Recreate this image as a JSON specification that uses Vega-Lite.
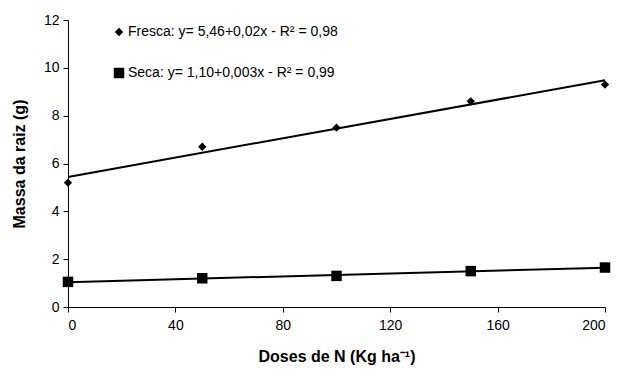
{
  "$schema": "https://vega.github.io/schema/vega-lite/v6.json",
  "width": 537,
  "height": 287,
  "autosize": {"type": "none"},
  "padding": {"left": 68, "top": 20, "right": 18, "bottom": 73},
  "background": "white",
  "config": {
    "view": {"stroke": null},
    "font": "Liberation Sans",
    "axis": {
      "grid": false,
      "domainColor": "black",
      "tickColor": "black",
      "labelColor": "black",
      "titleColor": "black",
      "labelFont": "Liberation Sans",
      "labelFontSize": 14,
      "titleFont": "Liberation Sans",
      "titleFontSize": 16,
      "titleFontWeight": "bold",
      "tickSize": 5
    }
  },
  "data": {
    "values": [
      {"dose": 0, "massa": 5.2, "serie": "Fresca"},
      {"dose": 50, "massa": 6.7, "serie": "Fresca"},
      {"dose": 100, "massa": 7.5, "serie": "Fresca"},
      {"dose": 150, "massa": 8.6, "serie": "Fresca"},
      {"dose": 200, "massa": 9.3, "serie": "Fresca"},
      {"dose": 0, "massa": 1.05, "serie": "Seca"},
      {"dose": 50, "massa": 1.2, "serie": "Seca"},
      {"dose": 100, "massa": 1.3, "serie": "Seca"},
      {"dose": 150, "massa": 1.5, "serie": "Seca"},
      {"dose": 200, "massa": 1.65, "serie": "Seca"}
    ]
  },
  "layer": [
    {
      "transform": [
        {"regression": "massa", "on": "dose", "groupby": ["serie"], "extent": [0, 200]}
      ],
      "mark": {"type": "line", "color": "black", "strokeWidth": 2},
      "encoding": {
        "x": {"field": "dose", "type": "quantitative"},
        "y": {"field": "massa", "type": "quantitative"},
        "detail": {"field": "serie"}
      }
    },
    {
      "mark": {"type": "point", "filled": true, "opacity": 1},
      "encoding": {
        "x": {
          "field": "dose",
          "type": "quantitative",
          "scale": {"domain": [0, 200], "nice": false, "zero": false},
          "axis": {"values": [0, 40, 80, 120, 160, 200], "title": "Doses de N (Kg ha⁻¹)", "titlePadding": 16, "labelPadding": 6}
        },
        "y": {
          "field": "massa",
          "type": "quantitative",
          "scale": {"domain": [0, 12], "nice": false},
          "axis": {"values": [0, 2, 4, 6, 8, 10, 12], "title": "Massa da raiz (g)", "titlePadding": 16, "labelPadding": 4}
        },
        "shape": {
          "field": "serie",
          "type": "nominal",
          "scale": {"domain": ["Fresca", "Seca"], "range": ["diamond", "square"]},
          "legend": {
            "title": null,
            "orient": "none",
            "legendX": 44,
            "legendY": 5,
            "rowPadding": 24,
            "symbolFillColor": "black",
            "symbolStrokeColor": "black",
            "symbolOpacity": 1,
            "labelFontSize": 14,
            "labelFont": "Liberation Sans",
            "labelColor": "black",
            "labelLimit": 0,
            "labelOffset": 2,
            "labelExpr": "datum.label == 'Fresca' ? 'Fresca: y= 5,46+0,02x - R² = 0,98' : 'Seca: y= 1,10+0,003x - R² = 0,99'"
          }
        },
        "size": {"field": "serie", "type": "nominal", "scale": {"domain": ["Fresca", "Seca"], "range": [70, 110]}},
        "color": {"value": "black"}
      }
    }
  ]
}
